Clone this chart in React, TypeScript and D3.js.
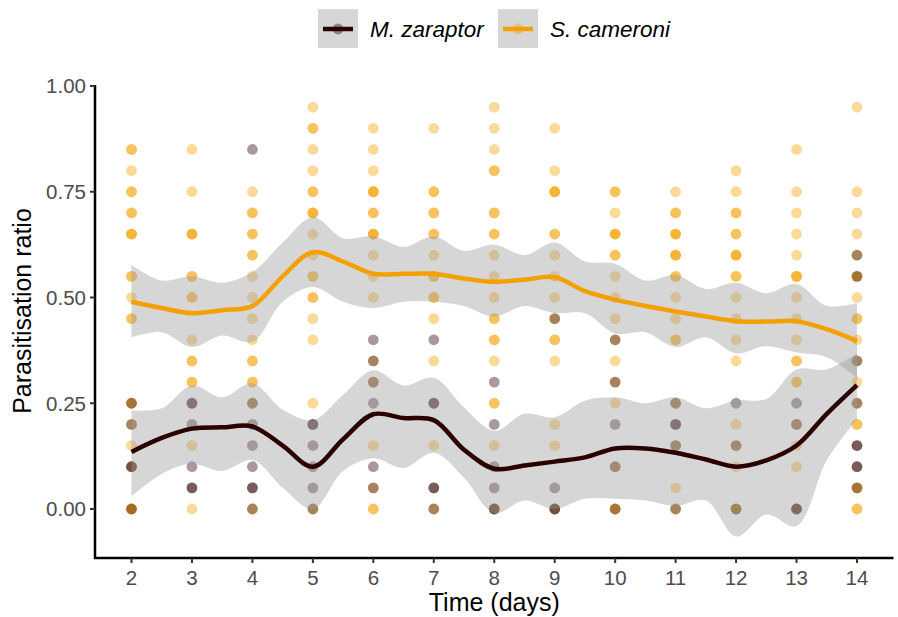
import React from 'react';
import * as d3 from 'd3';

const W = 898;
const H = 617;

const SPECIES = ['M. zaraptor', 'S. cameroni'];
const COLORS = ['#2B0000', '#F4A000'];

const DAYS = [2, 3, 4, 5, 6, 7, 8, 9, 10, 11, 12, 13, 14];
const Y_TICKS = [0, 0.25, 0.5, 0.75, 1];
const Y_LABELS = ['0.00', '0.25', '0.50', '0.75', '1.00'];

// observed ratios per day (index matches DAYS)
const S_POINTS: number[][] = [
  [0.85, 0.85, 0.8, 0.75, 0.75, 0.7, 0.7, 0.65, 0.65, 0.65, 0.55, 0.55, 0.5, 0.45, 0.45, 0.25, 0.25, 0.2, 0.15, 0.1, 0, 0, 0],
  [0.85, 0.75, 0.65, 0.65, 0.65, 0.55, 0.55, 0.5, 0.5, 0.4, 0.35, 0.35, 0.3, 0.3, 0.15, 0],
  [0.75, 0.7, 0.7, 0.65, 0.65, 0.6, 0.6, 0.55, 0.5, 0.45, 0.4, 0.35, 0.35, 0.3, 0.3, 0.25, 0],
  [0.95, 0.9, 0.9, 0.85, 0.8, 0.75, 0.75, 0.7, 0.7, 0.7, 0.65, 0.6, 0.55, 0.55, 0.5, 0.5, 0.45, 0.4, 0.25, 0],
  [0.9, 0.85, 0.8, 0.75, 0.75, 0.75, 0.7, 0.7, 0.65, 0.65, 0.65, 0.6, 0.55, 0.5, 0.35, 0.3, 0.15, 0.05, 0, 0],
  [0.9, 0.75, 0.75, 0.7, 0.7, 0.65, 0.65, 0.6, 0.55, 0.55, 0.5, 0.5, 0.45, 0.35, 0.15, 0],
  [0.95, 0.9, 0.85, 0.8, 0.8, 0.7, 0.7, 0.65, 0.65, 0.6, 0.55, 0.5, 0.45, 0.45, 0.4, 0.4, 0.35, 0.25, 0.25, 0.15, 0],
  [0.9, 0.8, 0.75, 0.75, 0.75, 0.65, 0.65, 0.6, 0.55, 0.5, 0.45, 0.4, 0.4, 0.35, 0.2, 0.15, 0],
  [0.75, 0.75, 0.7, 0.65, 0.65, 0.65, 0.6, 0.6, 0.55, 0.5, 0.45, 0.4, 0.35, 0.3, 0.25, 0.1, 0, 0],
  [0.75, 0.7, 0.7, 0.65, 0.65, 0.65, 0.6, 0.6, 0.6, 0.55, 0.55, 0.5, 0.45, 0.4, 0.4, 0.25, 0.15, 0.05, 0],
  [0.8, 0.75, 0.7, 0.7, 0.65, 0.65, 0.6, 0.6, 0.6, 0.55, 0.55, 0.5, 0.45, 0.4, 0.35, 0.2, 0.15, 0.1, 0, 0],
  [0.85, 0.75, 0.7, 0.65, 0.6, 0.55, 0.55, 0.55, 0.5, 0.45, 0.4, 0.35, 0.35, 0.3, 0.3, 0.2, 0.15, 0.1, 0],
  [0.95, 0.75, 0.7, 0.65, 0.6, 0.55, 0.55, 0.5, 0.45, 0.45, 0.4, 0.35, 0.3, 0.25, 0.2, 0.2, 0.05, 0.05, 0, 0],
];

const M_POINTS: number[][] = [
  [0.25, 0.2, 0.1, 0.1, 0],
  [0.25, 0.25, 0.2, 0.1, 0.05, 0.05],
  [0.85, 0.25, 0.2, 0.15, 0.1, 0.05, 0.05, 0],
  [0.2, 0.2, 0.15, 0.1, 0.05, 0],
  [0.4, 0.35, 0.3, 0.25, 0.1, 0.05],
  [0.4, 0.25, 0.25, 0.05, 0.05, 0],
  [0.3, 0.2, 0.1, 0.05, 0, 0],
  [0.45, 0.05, 0, 0],
  [0.4, 0.3, 0.2, 0.1, 0],
  [0.25, 0.2, 0.2, 0.15, 0],
  [0.25, 0.15, 0],
  [0.25, 0.2, 0, 0],
  [0.6, 0.55, 0.35, 0.25, 0.15, 0.15, 0.1, 0.1, 0.05],
];

// smoothed fits (loess)
const FIT_T = [2, 2.5, 3, 3.5, 4, 4.5, 5, 5.5, 6, 6.5, 7, 7.5, 8, 8.5, 9, 9.5, 10, 10.5, 11, 11.5, 12, 12.5, 13, 13.5, 14];
const S_FIT = [0.49, 0.475, 0.463, 0.47, 0.48, 0.55, 0.607, 0.585, 0.556, 0.556, 0.556, 0.545, 0.537, 0.542, 0.548, 0.515, 0.495, 0.48, 0.467, 0.455, 0.444, 0.443, 0.444, 0.425, 0.397];
const S_HI = [0.577, 0.54, 0.55, 0.535, 0.56, 0.63, 0.69, 0.64, 0.645, 0.62, 0.645, 0.61, 0.625, 0.6, 0.63, 0.585, 0.58, 0.54, 0.553, 0.52, 0.535, 0.51, 0.532, 0.48, 0.487];
const S_LO = [0.406, 0.418, 0.383, 0.41, 0.395, 0.49, 0.525, 0.49, 0.475, 0.49, 0.49, 0.48, 0.455, 0.48, 0.463, 0.463, 0.415, 0.418, 0.383, 0.406, 0.368, 0.385, 0.37, 0.359, 0.31];
const M_FIT = [0.135, 0.168, 0.19, 0.193, 0.195, 0.15, 0.1, 0.165, 0.224, 0.215, 0.21, 0.14, 0.095, 0.103, 0.112, 0.122, 0.143, 0.143, 0.133, 0.117, 0.1, 0.115, 0.15, 0.225, 0.293];
const M_HI = [0.233, 0.238, 0.292, 0.264, 0.297, 0.235, 0.21, 0.27, 0.328, 0.292, 0.31, 0.24, 0.185, 0.225, 0.217, 0.256, 0.264, 0.25, 0.264, 0.238, 0.257, 0.26, 0.33, 0.33, 0.368];
const M_LO = [0.03, 0.083, 0.107, 0.09, 0.116, 0.05, 0.0, 0.09, 0.12, 0.097, 0.133, 0.074, -0.01, 0.02, 0.0, 0.024, 0.024, 0.02, 0.007, 0.02, -0.065, -0.013, -0.04, 0.115, 0.213];

const x = d3.scaleLinear().domain([2, 14]).range([131.5, 857]);
const y = d3.scaleLinear().domain([0, 1]).range([509, 86]);

const PANEL_LEFT = 95;
const PANEL_RIGHT = 893.5;
const PANEL_BOTTOM = 558;

type Row = { t: number; fit: number; lo: number; hi: number };
const rows = (fit: number[], lo: number[], hi: number[]): Row[] =>
  FIT_T.map((t, i) => ({ t, fit: fit[i], lo: lo[i], hi: hi[i] }));

const area = d3
  .area<Row>()
  .x((d) => x(d.t))
  .y0((d) => y(d.lo))
  .y1((d) => y(d.hi))
  .curve(d3.curveCatmullRom);
const line = d3
  .line<Row>()
  .x((d) => x(d.t))
  .y((d) => y(d.fit))
  .curve(d3.curveCatmullRom);

const FONT = "'Liberation Sans', Arial, Helvetica, sans-serif";

export default function App() {
  const sRows = rows(S_FIT, S_LO, S_HI);
  const mRows = rows(M_FIT, M_LO, M_HI);
  const ptsAlpha = 0.4;

  return (
    <svg
      width={W}
      height={H}
      style={{ position: 'absolute', left: 0, top: 0, background: '#fff' }}
      fontFamily={FONT}
    >
      <rect x={0} y={0} width={W} height={H} fill="#fff" />
      {/* points */}
      <g>
        {DAYS.map((d, i) =>
          S_POINTS[i].map((v, j) => (
            <circle key={`s${i}-${j}`} cx={x(d)} cy={y(v)} r={5.4} fill={COLORS[1]} fillOpacity={ptsAlpha} />
          ))
        )}
        {DAYS.map((d, i) =>
          M_POINTS[i].map((v, j) => (
            <circle key={`m${i}-${j}`} cx={x(d)} cy={y(v)} r={5.4} fill={COLORS[0]} fillOpacity={ptsAlpha} />
          ))
        )}
      </g>
      {/* ribbons */}
      <path d={area(mRows) || ''} fill="#999999" fillOpacity={0.4} />
      <path d={area(sRows) || ''} fill="#999999" fillOpacity={0.4} />
      {/* fits */}
      <path d={line(mRows) || ''} fill="none" stroke={COLORS[0]} strokeWidth={4.5} />
      <path d={line(sRows) || ''} fill="none" stroke={COLORS[1]} strokeWidth={4.5} />

      {/* axes */}
      <line x1={PANEL_LEFT} x2={PANEL_LEFT} y1={y(1) - 1} y2={PANEL_BOTTOM + 1} stroke="#000" strokeWidth={2.5} />
      <line x1={PANEL_LEFT - 1} x2={PANEL_RIGHT} y1={PANEL_BOTTOM} y2={PANEL_BOTTOM} stroke="#000" strokeWidth={2.5} />
      {Y_TICKS.map((t, i) => (
        <g key={`yt${i}`}>
          <line x1={PANEL_LEFT - 5} x2={PANEL_LEFT} y1={y(t)} y2={y(t)} stroke="#333" strokeWidth={2} />
          <text x={PANEL_LEFT - 9} y={y(t)} dy="0.36em" textAnchor="end" fontSize={20.5} fill="#4d4d4d">
            {Y_LABELS[i]}
          </text>
        </g>
      ))}
      {DAYS.map((d) => (
        <g key={`xt${d}`}>
          <line x1={x(d)} x2={x(d)} y1={PANEL_BOTTOM} y2={PANEL_BOTTOM + 5} stroke="#333" strokeWidth={2} />
          <text x={x(d)} y={585} textAnchor="middle" fontSize={20.5} fill="#4d4d4d">
            {d}
          </text>
        </g>
      ))}
      <text x={(PANEL_LEFT + PANEL_RIGHT) / 2} y={611} textAnchor="middle" fontSize={25} fill="#000">
        Time (days)
      </text>
      <text
        transform={`translate(31, ${(64 + PANEL_BOTTOM) / 2}) rotate(-90)`}
        textAnchor="middle"
        fontSize={25}
        fill="#000"
      >
        Parasitisation ratio
      </text>

      {/* legend */}
      {SPECIES.map((s, i) => {
        const kx = i === 0 ? 318 : 498;
        return (
          <g key={s}>
            <rect x={kx} y={9} width={40} height={39} fill="#d6d6d6" />
            <circle cx={kx + 20} cy={29} r={5.4} fill={COLORS[i]} fillOpacity={ptsAlpha} />
            <line x1={kx + 5} x2={kx + 35} y1={29} y2={29} stroke={COLORS[i]} strokeWidth={4.5} />
            <text x={kx + 52} y={37} fontSize={22.5} fontStyle="italic" fill="#000">
              {s}
            </text>
          </g>
        );
      })}
    </svg>
  );
}
